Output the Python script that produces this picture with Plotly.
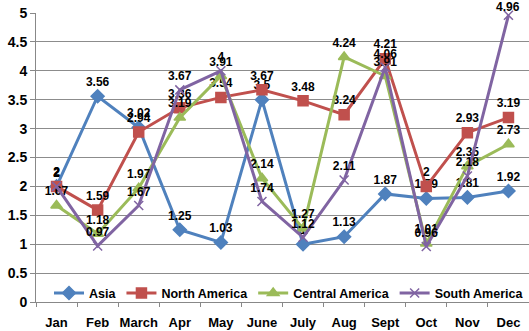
import plotly.graph_objects as go

months = ["Jan", "Feb", "March", "Apr", "May", "June", "July", "Aug", "Sept", "Oct", "Nov", "Dec"]
asia = [2, 3.56, 3.02, 1.25, 1.03, 3.5, 1, 1.13, 1.87, 1.79, 1.81, 1.92]
north_america = [2, 1.59, 2.94, 3.36, 3.54, 3.67, 3.48, 3.24, 4.21, 2, 2.93, 3.19]
central_america = [1.67, 1.18, 1.97, 3.19, 3.91, 2.14, 1.27, 4.24, 3.91, 1.01, 2.35, 2.73]
south_america = [2, 0.97, 1.67, 3.67, 4, 1.74, 1.12, 2.11, 4.06, 0.96, 2.18, 4.96]

series = [
    ("Asia", asia, "#4F81BD", "diamond", 10),
    ("North America", north_america, "#C0504D", "square", 10),
    ("Central America", central_america, "#9BBB59", "triangle-up", 10),
    ("South America", south_america, "#8064A2", "x-thin-open", 9),
]

FONT = "Liberation Sans"
LABEL_FONT = dict(family=FONT, size=12, color="black", weight="bold")
fig = go.Figure()
for name, vals, color, sym, size in series:
    texts = [f"{v:g}" for v in vals]
    # labels that would leave the top of the chart are drawn as annotations pushed inside
    for i, v in enumerate(vals):
        if v > 4.8:
            fig.add_annotation(x=months[i], y=v, text=texts[i], showarrow=False,
                               yshift=8, font=LABEL_FONT, xref="x", yref="y")
            texts[i] = ""
    fig.add_trace(go.Scatter(
        x=months, y=vals, name=name,
        mode="lines+markers+text",
        line=dict(color=color, width=3),
        marker=dict(symbol=sym, size=size, color=color, line=dict(color=color, width=1.5)),
        text=texts,
        textposition="top center",
        textfont=LABEL_FONT,
        cliponaxis=False,
    ))

fig.update_layout(
    width=529, height=331,
    margin=dict(l=36, r=0, t=13, b=29),
    paper_bgcolor="white", plot_bgcolor="white",
    font=dict(family=FONT, size=12, color="black", weight="bold"),
    showlegend=True,
    legend=dict(orientation="h", x=0.52, xanchor="center", y=0.03, yanchor="middle",
                bgcolor="rgba(0,0,0,0)", font=dict(family=FONT, size=12.5, weight="bold"),
                itemwidth=30, tracegroupgap=0),
    xaxis=dict(type="category", range=[-0.5, 11.5], showgrid=False,
               showline=True, linecolor="#888888", linewidth=1,
               ticks="outside", tickson="boundaries", ticklen=4, tickcolor="#888888",
               tickangle=0, ticklabelstandoff=8,
               tickfont=dict(family=FONT, size=13, weight="bold")),
    yaxis=dict(range=[0, 5], dtick=0.5, showgrid=True, gridcolor="#8C8C8C", gridwidth=1,
               showline=True, linecolor="#888888", linewidth=1, zeroline=False,
               ticks="outside", ticklen=5, tickcolor="#888888",
               tickfont=dict(family=FONT, size=14, weight="bold")),
)

fig.write_html("out.html")
